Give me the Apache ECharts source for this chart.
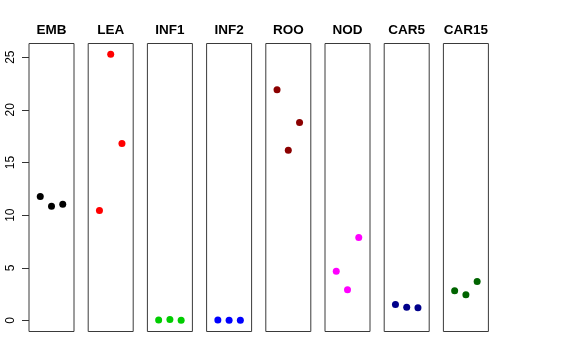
<!DOCTYPE html>
<html><head><meta charset="utf-8">
<script src="https://cdn.jsdelivr.net/npm/echarts@6/dist/echarts.min.js"></script>
<style>html,body{margin:0;padding:0;background:#fff}#c{width:576px;height:360px}</style>
</head><body><div id="c"></div>
<script>
const categories = ["EMB","LEA","INF1","INF2","ROO","NOD","CAR5","CAR15"];
const colors = ["#000000","#FF0000","#00CD00","#0000FF","#8B0000","#FF00FF","#00008B","#006400"];
const EMB = [11.77, 10.85, 11.04];
const LEA = [10.45, 25.29, 16.81];
const INF1 = [0.05, 0.1, 0.02];
const INF2 = [0.05, 0.02, 0.02];
const ROO = [21.9, 16.17, 18.8];
const NOD = [4.68, 2.91, 7.88];
const CAR5 = [1.52, 1.26, 1.2];
const CAR15 = [2.82, 2.44, 3.7];
const yTicks = [0, 5, 10, 15, 20, 25];
const allValues = [EMB, LEA, INF1, INF2, ROO, NOD, CAR5, CAR15];

const grids = [], xAxes = [], yAxes = [], series = [], titles = [];
const font = "Liberation Sans, Arial, Helvetica, sans-serif";
categories.forEach((cat, i) => {
  const left = 29 + i * 59.2;
  grids.push({left: left, top: 43.5, width: 45, height: 288, show: true, borderColor: "#3a3a3a", borderWidth: 1, backgroundColor: "transparent"});
  xAxes.push({type: "value", gridIndex: i, min: 0, max: 4, show: false});
  yAxes.push({
    type: "value", gridIndex: i, min: -1.05, max: 26.3,
    show: i === 0,
    splitLine: {show: false},
    axisLine: {show: false},
    axisTick: {show: i === 0, length: 7, lineStyle: {color: "#333"}, customValues: yTicks},
    axisLabel: {show: i === 0, rotate: 90, margin: 12, fontSize: 12, color: "#000", fontFamily: font, customValues: yTicks, showMinLabel: true, showMaxLabel: true}
  });
  series.push({
    type: "scatter", xAxisIndex: i, yAxisIndex: i, symbolSize: 7,
    itemStyle: {color: colors[i], opacity: 1},
    data: allValues[i].map((v, k) => [k + 1, v]),
    animation: false
  });
  titles.push({text: cat, left: left + 22.5, top: 23, padding: 0, textAlign: "center",
    textStyle: {fontSize: 13.5, fontWeight: "bold", color: "#000", fontFamily: font}});
});

const chart = echarts.init(document.getElementById("c"), null, {renderer: "canvas"});
chart.setOption({animation: false, title: titles, grid: grids, xAxis: xAxes, yAxis: yAxes, series: series});
</script></body></html>
